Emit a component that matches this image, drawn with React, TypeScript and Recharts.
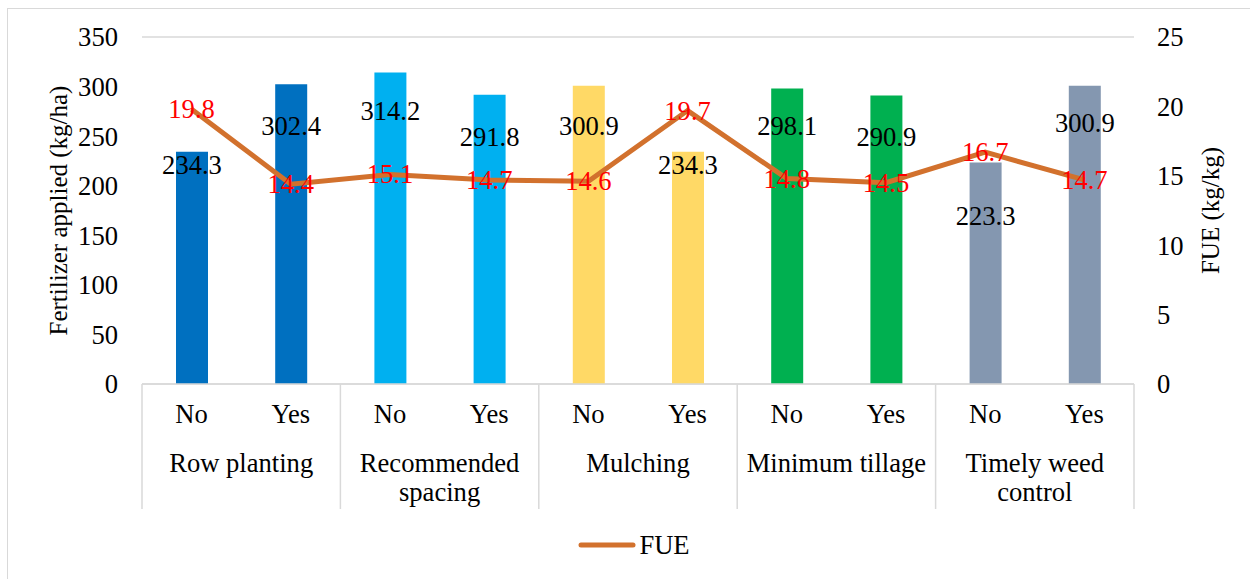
import React from 'react';
import {
  Bar, Cell, ComposedChart, CartesianGrid, LabelList, Legend, Line,
  XAxis, YAxis
} from 'recharts';

const practices = ['Row planting', 'Recommended spacing', 'Mulching', 'Minimum tillage', 'Timely weed control'];
const practiceLines = [['Row planting'], ['Recommended', 'spacing'], ['Mulching'], ['Minimum tillage'], ['Timely weed', 'control']];
const answers = ['No', 'Yes', 'No', 'Yes', 'No', 'Yes', 'No', 'Yes', 'No', 'Yes'];
const fertilizer = [234.3, 302.4, 314.2, 291.8, 300.9, 234.3, 298.1, 290.9, 223.3, 300.9];
const fue = [19.8, 14.4, 15.1, 14.7, 14.6, 19.7, 14.8, 14.5, 16.7, 14.7];
const leftTicks = [0, 50, 100, 150, 200, 250, 300, 350];
const rightTicks = [0, 5, 10, 15, 20, 25];

const data = answers.map((a, i) => ({
  answer: a,
  practice: practices[Math.floor(i / 2)],
  fertilizer: fertilizer[i],
  fue: fue[i],
}));

// styling
const FONT = 'Liberation Serif, DejaVu Serif, Times New Roman, serif';
const FS = 26.6;
const GRID = '#D9D9D9';
const LINE_COLOR = '#D2712D';
const groupColors = ['#0070C0', '#00B0F0', '#FFD966', '#00B050', '#8497B0'];
const barLabelDy = [13, 42, 39, 42, 40, 13, 38, 41, 53, 37];

const W = 1250;
const H = 579;
const PLOT_LEFT = 142;
const PLOT_RIGHT = 1134;
const PLOT_TOP = 37;
const PLOT_BOTTOM = 384;
const BAND = (PLOT_RIGHT - PLOT_LEFT) / data.length;

const CategoryTick = (props: any) => {
  const { x, y, payload, index } = props;
  const half = BAND / 2;
  const lines = practiceLines[Math.floor(index / 2)];
  return (
    <g>
      <text x={x} y={y + 30} textAnchor="middle" dominantBaseline="central"
        fontFamily={FONT} fontSize={FS} fill="#000">{payload.value}</text>
      {index % 2 === 0 && (
        <>
          <line x1={x - half} x2={x - half} y1={y} y2={y + 125} stroke={GRID} strokeWidth={1.5} />
          {lines.map((ln, k) => (
            <text key={k} x={x + half} y={y + 79 + k * 29} textAnchor="middle" dominantBaseline="central"
              fontFamily={FONT} fontSize={FS} fill="#000">{ln}</text>
          ))}
        </>
      )}
      {index === data.length - 1 && (
        <line x1={x + half} x2={x + half} y1={y} y2={y + 125} stroke={GRID} strokeWidth={1.5} />
      )}
    </g>
  );
};

const BarValueLabel = (props: any) => {
  const { x, y, width, value, index } = props;
  return (
    <text x={x + width / 2} y={y + barLabelDy[index]} textAnchor="middle" dominantBaseline="central"
      fontFamily={FONT} fontSize={FS} fill="#000">{Number(value).toFixed(1)}</text>
  );
};

const LineValueLabel = (props: any) => {
  const { x, y, value } = props;
  return (
    <text x={x} y={y} textAnchor="middle" dominantBaseline="central"
      fontFamily={FONT} fontSize={FS} fill="#FF0000">{Number(value).toFixed(1)}</text>
  );
};

const LegendContent = () => (
  <div style={{ display: 'flex', justifyContent: 'center', alignItems: 'center', height: 30 }}>
    <svg width={58} height={10} style={{ marginRight: 3 }}>
      <line x1={3} x2={55} y1={5} y2={5} stroke={LINE_COLOR} strokeWidth={5} strokeLinecap="round" />
    </svg>
    <span style={{ fontFamily: FONT, fontSize: FS, color: '#000' }}>FUE</span>
  </div>
);

const App = () => {
  return (
    <div style={{ position: 'fixed', left: 0, top: 0, width: W, height: H, overflow: 'hidden', background: '#fff' }}>
      <div style={{ position: 'absolute', left: 7, top: 8, width: 1300, height: 700, border: `1px solid ${GRID}` }} />
      <div style={{ position: 'absolute', left: 0, top: 0 }}>
        <ComposedChart
          width={W}
          height={H}
          data={data}
          margin={{ top: PLOT_TOP, left: PLOT_LEFT - 70, right: W - PLOT_RIGHT - 60, bottom: H - PLOT_BOTTOM - 130 - 30 }}
        >
          <CartesianGrid vertical={false} stroke={GRID} strokeWidth={1.3} />
          <XAxis
            dataKey="answer"
            height={130}
            tickSize={0}
            tickMargin={0}
            axisLine={{ stroke: GRID, strokeWidth: 1.5 }}
            tickLine={false}
            interval={0}
            tick={<CategoryTick />}
          />
          <YAxis
            yAxisId="left"
            width={70}
            domain={[0, 350]}
            ticks={leftTicks}
            axisLine={false}
            tickLine={false}
            tickSize={0}
            tickMargin={24}
            tick={{ fontFamily: FONT, fontSize: FS, fill: '#000' }}
            label={{ value: 'Fertilizer applied (kg/ha)', angle: -90, position: 'center', dx: -49, style: { fontFamily: FONT, fontSize: 25, fill: '#000' } }}
          />
          <YAxis
            yAxisId="right"
            orientation="right"
            width={60}
            domain={[0, 25]}
            ticks={rightTicks}
            axisLine={false}
            tickLine={false}
            tickSize={0}
            tickMargin={23}
            tick={{ fontFamily: FONT, fontSize: FS, fill: '#000', textAnchor: 'start' }}
            label={{ value: 'FUE (kg/kg)', angle: -90, position: 'center', dx: 46, style: { fontFamily: FONT, fontSize: 25, fill: '#000' } }}
          />
          <Legend
            verticalAlign="bottom"
            content={<LegendContent />}
            wrapperStyle={{ position: 'absolute', left: 0, width: 1268, top: 530, bottom: 'auto', height: 30 }}
          />
          <Bar yAxisId="left" dataKey="fertilizer" barSize={32} isAnimationActive={false} legendType="none">
            {data.map((d, i) => (
              <Cell key={i} fill={groupColors[Math.floor(i / 2)]} />
            ))}
            <LabelList dataKey="fertilizer" content={<BarValueLabel />} />
          </Bar>
          <Line
            yAxisId="right"
            dataKey="fue"
            name="FUE"
            type="linear"
            stroke={LINE_COLOR}
            strokeWidth={5}
            dot={false}
            activeDot={false}
            isAnimationActive={false}
          >
            <LabelList dataKey="fue" content={<LineValueLabel />} />
          </Line>
        </ComposedChart>
      </div>
    </div>
  );
};

export default App;
